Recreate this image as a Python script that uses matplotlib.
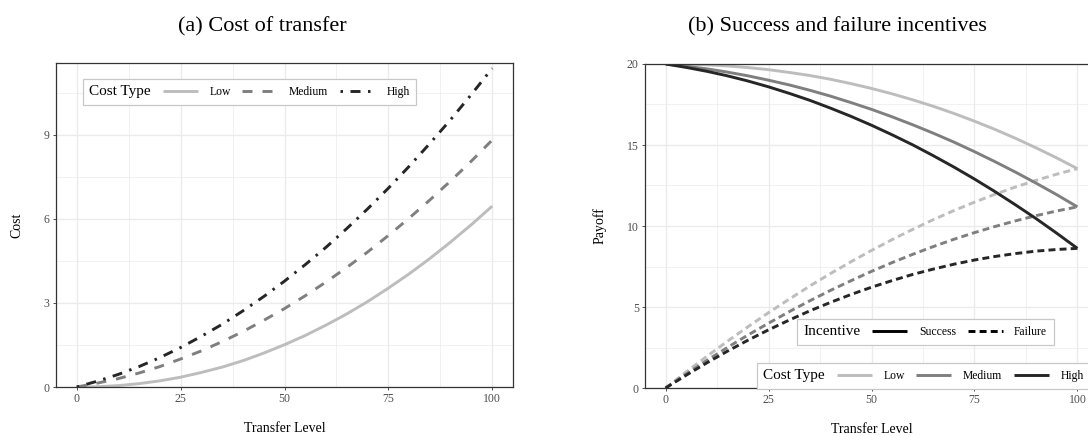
import matplotlib
matplotlib.use("Agg")
import matplotlib.pyplot as plt
from matplotlib.lines import Line2D
from matplotlib.ticker import MultipleLocator

plt.rcParams["font.family"] = ["Liberation Serif", "DejaVu Serif"]
plt.rcParams["lines.scale_dashes"] = False

transfer = [0, 5, 10, 15, 20, 25, 30, 35, 40, 45, 50,
            55, 60, 65, 70, 75, 80, 85, 90, 95, 100]

cost_low = [0, 0.01, 0.05, 0.12, 0.22, 0.35, 0.52, 0.71, 0.94, 1.21, 1.51,
            1.84, 2.21, 2.61, 3.05, 3.53, 4.04, 4.59, 5.18, 5.80, 6.46]
cost_medium = [0, 0.14, 0.30, 0.50, 0.73, 1.00, 1.29, 1.62, 1.98, 2.38, 2.80,
               3.26, 3.75, 4.27, 4.82, 5.41, 6.03, 6.68, 7.36, 8.07, 8.82]
cost_high = [0, 0.21, 0.45, 0.73, 1.05, 1.41, 1.81, 2.24, 2.72, 3.23, 3.78,
             4.37, 4.99, 5.66, 6.36, 7.10, 7.88, 8.70, 9.55, 10.45, 11.38]

success_low = [20, 19.99, 19.95, 19.88, 19.78, 19.65, 19.48, 19.29, 19.06, 18.79, 18.49,
               18.16, 17.79, 17.39, 16.95, 16.47, 15.96, 15.41, 14.82, 14.20, 13.54]
success_medium = [20, 19.86, 19.70, 19.50, 19.27, 19.00, 18.71, 18.38, 18.02, 17.62, 17.20,
                  16.74, 16.25, 15.73, 15.18, 14.59, 13.97, 13.32, 12.64, 11.93, 11.18]
success_high = [20, 19.79, 19.55, 19.27, 18.95, 18.59, 18.19, 17.76, 17.28, 16.77, 16.22,
                15.63, 15.01, 14.34, 13.64, 12.90, 12.12, 11.30, 10.45, 9.55, 8.62]

failure_low = [0, 0.99, 1.95, 2.88, 3.78, 4.65, 5.48, 6.29, 7.06, 7.79, 8.49,
               9.16, 9.79, 10.39, 10.95, 11.47, 11.96, 12.41, 12.82, 13.20, 13.54]
failure_medium = [0, 0.86, 1.70, 2.50, 3.27, 4.00, 4.71, 5.38, 6.02, 6.62, 7.20,
                  7.74, 8.25, 8.73, 9.18, 9.59, 9.97, 10.32, 10.64, 10.93, 11.18]
failure_high = [0, 0.79, 1.55, 2.27, 2.95, 3.59, 4.19, 4.76, 5.28, 5.77, 6.22,
                6.63, 7.01, 7.34, 7.64, 7.90, 8.12, 8.30, 8.45, 8.55, 8.62]

cost_types = ["Low", "Medium", "High"]
incentives = ["Success", "Failure"]
colors = {"Low": "#bdbdbd", "Medium": "#7f7f7f", "High": "#262626"}

W, H = 1088, 436
LW = 2.1
left_dashes = {"Low": None, "Medium": (7.2, 7.2), "High": (1.8, 5.4, 7.2, 5.4)}
fail_dashes = (5.0, 3.0)


def style_axes(ax, ymajor):
    ax.set_axisbelow(True)
    ax.xaxis.set_major_locator(MultipleLocator(25))
    ax.xaxis.set_minor_locator(MultipleLocator(12.5))
    ax.yaxis.set_major_locator(MultipleLocator(ymajor))
    ax.yaxis.set_minor_locator(MultipleLocator(ymajor / 2))
    ax.grid(which="major", color="#ebebeb", lw=1.0)
    ax.grid(which="minor", color="#ebebeb", lw=0.5)
    ax.tick_params(which="major", length=2.5, width=0.6, color="#333333",
                   labelcolor="#4d4d4d", labelsize=8.5, pad=2)
    ax.tick_params(which="minor", length=0)
    for s in ax.spines.values():
        s.set_color("#333333")
        s.set_linewidth(0.9)


def title_left(leg):
    # put the legend title to the left of the entries, like ggplot
    vp = leg._legend_box
    title_box, handle_box = vp.get_children()
    vp._children = [handle_box]
    handle_box._children.insert(0, title_box)


def make_legend(ax, handles, labels, title, x, y):
    leg = ax.legend(handles, labels, title=title, ncol=len(labels),
                    loc="upper left", bbox_to_anchor=(x / W, 1 - y / H),
                    bbox_transform=ax.figure.transFigure, borderaxespad=0,
                    fontsize=8.4, title_fontsize=11, frameon=True, fancybox=False,
                    framealpha=1, edgecolor="#c8c8c8", handlelength=3.0,
                    handletextpad=1.0, columnspacing=1.0, borderpad=0.55)
    leg.get_frame().set_linewidth(0.9)
    title_left(leg)
    return leg


fig = plt.figure(figsize=(W / 100, H / 100), dpi=100)

# (a) cost of transfer
ax1 = fig.add_axes([56 / W, 1 - 387 / H, 457 / W, 324 / H])
costs = {"Low": cost_low, "Medium": cost_medium, "High": cost_high}
handles = []
for ct in cost_types:
    kw = {}
    if left_dashes[ct] is not None:
        kw["dashes"] = left_dashes[ct]
    ln, = ax1.plot(transfer, costs[ct], color=colors[ct], lw=LW,
                   solid_capstyle="butt", dash_capstyle="butt", **kw)
    handles.append(ln)
ax1.set_xlim(-5, 105)
ax1.set_ylim(0, 11.57)
style_axes(ax1, 3)
ax1.set_xlabel("Transfer Level", fontsize=10, labelpad=12)
ax1.set_ylabel("Cost", fontsize=10, labelpad=15)
make_legend(ax1, handles, cost_types, "Cost Type", 83, 79)

# (b) success and failure incentives
ax2 = fig.add_axes([645 / W, 1 - 388 / H, 453 / W, 324 / H])
success = {"Low": success_low, "Medium": success_medium, "High": success_high}
failure = {"Low": failure_low, "Medium": failure_medium, "High": failure_high}
for ct in cost_types:
    ax2.plot(transfer, success[ct], color=colors[ct], lw=LW, solid_capstyle="butt")
    ax2.plot(transfer, failure[ct], color=colors[ct], lw=LW, dashes=fail_dashes,
             dash_capstyle="butt")
ax2.set_xlim(-5, 105)
ax2.set_ylim(0, 20)
style_axes(ax2, 5)
ax2.set_xlabel("Transfer Level", fontsize=10, labelpad=12)
ax2.set_ylabel("Payoff", fontsize=10, labelpad=15)

inc_handles = [Line2D([], [], color="black", lw=LW, solid_capstyle="butt"),
               Line2D([], [], color="black", lw=LW, dashes=fail_dashes, dash_capstyle="butt")]
leg_inc = make_legend(ax2, inc_handles, incentives, "Incentive", 797, 319)
ax2.add_artist(leg_inc)
ct_handles = [Line2D([], [], color=colors[ct], lw=LW, solid_capstyle="butt") for ct in cost_types]
make_legend(ax2, ct_handles, cost_types, "Cost Type", 757, 363)

fig.text(262 / W, 1 - 27 / H, "(a) Cost of transfer", ha="center", va="center", fontsize=16)
fig.text(837 / W, 1 - 27 / H, "(b) Success and failure incentives", ha="center", va="center", fontsize=16)

fig.savefig("out.png", dpi=100)
